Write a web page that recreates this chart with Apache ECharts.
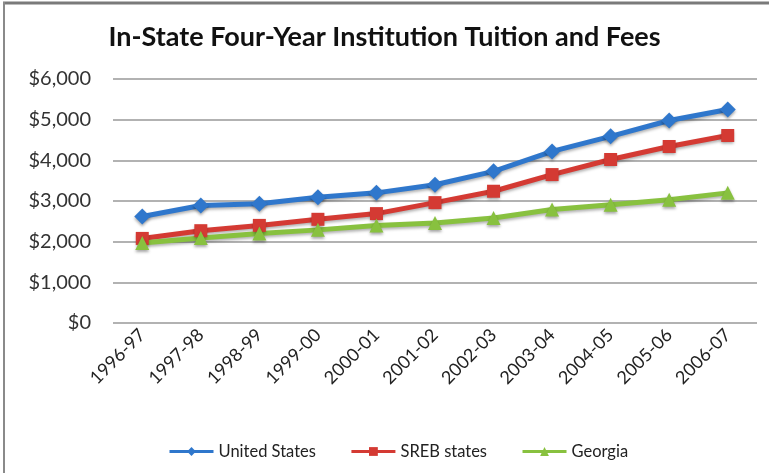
<!DOCTYPE html>
<html>
<head>
<meta charset="utf-8">
<script src="https://cdn.jsdelivr.net/npm/echarts@6/dist/echarts.min.js"></script>
<style>
  html, body { margin: 0; padding: 0; background: #fff; }
  #chart { width: 769px; height: 473px; }
</style>
</head>
<body>
<div id="chart"></div>
<script>
// Academic years on the category axis
const years = ['1996-97','1997-98','1998-99','1999-00','2000-01','2001-02','2002-03','2003-04','2004-05','2005-06','2006-07'];

// Average in-state tuition and fees, dollars
const unitedStates = [2620, 2890, 2930, 3090, 3200, 3400, 3730, 4220, 4590, 4980, 5250];
const srebStates   = [2080, 2270, 2400, 2550, 2690, 2960, 3240, 3650, 4020, 4340, 4610];
const georgia      = [1970, 2090, 2200, 2290, 2400, 2460, 2580, 2790, 2910, 3030, 3200];

const yTicks = { min: 0, max: 6000, interval: 1000 };

const FONT = 'Lato, "Open Sans", sans-serif';

const BLUE = '#2f77cc';
const RED = '#d43a33';
const GREEN = '#88c13f';

function lineSeries(name, data, color, symbol, size) {
  return {
    name: name,
    type: 'line',
    data: data,
    symbol: symbol,
    symbolSize: size,
    lineStyle: {
      color: color, width: 5,
      shadowColor: 'rgba(0,0,0,0.3)', shadowBlur: 3, shadowOffsetY: 2
    },
    itemStyle: {
      color: color,
      shadowColor: 'rgba(0,0,0,0.35)', shadowBlur: 3, shadowOffsetY: 2
    },
    emphasis: { disabled: true },
    z: 3
  };
}

const chart = echarts.init(document.getElementById('chart'), null, { renderer: 'canvas' });

chart.setOption({
  animation: false,
  backgroundColor: '#ffffff',
  title: {
    text: 'In-State Four-Year Institution Tuition and Fees',
    left: 'center',
    top: 19,
    textStyle: { fontFamily: FONT, fontSize: 27, fontWeight: 'bold', color: '#111' }
  },
  grid: { left: 113, right: 12, top: 79, bottom: 150 },
  xAxis: {
    type: 'category',
    data: years,
    boundaryGap: true,
    axisLine: { show: false },
    axisTick: { show: false },
    axisLabel: {
      rotate: 45,
      margin: 9,
      fontFamily: FONT,
      fontSize: 18,
      color: '#222'
    }
  },
  yAxis: {
    type: 'value',
    min: yTicks.min,
    max: yTicks.max,
    interval: yTicks.interval,
    axisLine: { show: false },
    axisTick: { show: false },
    splitLine: { lineStyle: { color: '#999999', width: 1.5 } },
    axisLabel: {
      margin: 22,
      fontFamily: FONT,
      fontSize: 20,
      color: '#333',
      formatter: v => '$' + v.toLocaleString('en-US')
    }
  },
  legend: {
    bottom: 8,
    left: 163,
    itemGap: 34,
    itemWidth: 44,
    itemHeight: 11,
    lineStyle: { width: 3, shadowBlur: 0, shadowOffsetY: 0 },
    textStyle: { fontFamily: FONT, fontSize: 16.5, color: '#222' },
    data: ['United States', 'SREB states', 'Georgia']
  },
  series: [
    lineSeries('United States', unitedStates, BLUE, 'diamond', 16),
    lineSeries('SREB states', srebStates, RED, 'rect', 13),
    lineSeries('Georgia', georgia, GREEN, 'triangle', 14)
  ],
  graphic: [
    { type: 'line', shape: { x1: 3, y1: 3, x2: 769, y2: 3 }, style: { stroke: '#7a7a7a', lineWidth: 3 } },
    { type: 'line', shape: { x1: 4, y1: 2, x2: 4, y2: 473 }, style: { stroke: '#8a8a8a', lineWidth: 2 } }
  ]
});
</script>
</body>
</html>
